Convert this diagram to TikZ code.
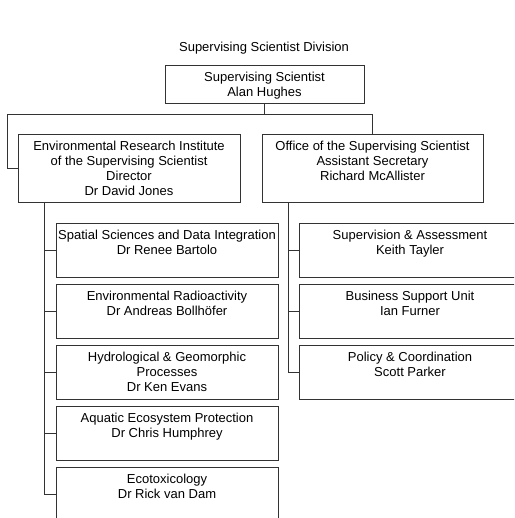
\documentclass[tikz,border=0pt]{standalone}
\usepackage{fontspec}
\setmainfont{Liberation Sans}
\usetikzlibrary{calc}
\begin{document}
\begin{tikzpicture}[x=1pt,y=-1pt,
  box/.style={draw=black!80, line width=0.8pt, rectangle, inner sep=0},
  txt/.style={anchor=north, align=center, inner sep=0, font=\fontsize{13}{15}\selectfont},
  conn/.style={draw=black!80, line width=0.8pt}]
\useasboundingbox (0,0) rectangle (514,518);
\clip (0,0) rectangle (514,518);
% title
\node[txt, anchor=base] (title) at (264,52) {Supervising Scientist Division};
% top
\node[box, minimum width=199pt, minimum height=38pt] (top) at (264.5,84) {};
\node[txt] (toptxt) at ($(top.north)+(0,7)$) {Supervising Scientist\\Alan Hughes};
% second level
\node[box, minimum width=222pt, minimum height=68pt] (eri) at (129,168) {};
\node[txt] (eritxt) at ($(eri.north)+(0,7)$) {Environmental Research Institute\\of the Supervising Scientist\\Director\\Dr David Jones};
\node[box, minimum width=221pt, minimum height=68pt] (oss) at (372.5,168) {};
\node[txt] (osstxt) at ($(oss.north)+(0,7)$) {Office of the Supervising Scientist\\Assistant Secretary\\Richard McAllister};
% left units
\tikzset{unit/.style={box, minimum width=222pt, minimum height=54pt}}
\node[unit] (l1) at (167,250) {};
\node[txt] at ($(l1.north)+(0,7)$) {Spatial Sciences and Data Integration\\Dr Renee Bartolo};
\node[unit] (l2) at (167,311) {};
\node[txt] at ($(l2.north)+(0,7)$) {Environmental Radioactivity\\Dr Andreas Bollhöfer};
\node[unit] (l3) at (167,372) {};
\node[txt] at ($(l3.north)+(0,7)$) {Hydrological \& Geomorphic\\Processes\\Dr Ken Evans};
\node[unit] (l4) at (167,433) {};
\node[txt] at ($(l4.north)+(0,7)$) {Aquatic Ecosystem Protection\\Dr Chris Humphrey};
\node[unit] (l5) at (167,494) {};
\node[txt] at ($(l5.north)+(0,7)$) {Ecotoxicology\\Dr Rick van Dam};
% right units
\node[unit] (r1) at (410,250) {};
\node[txt] at ($(r1.north)+(0,7)$) {Supervision \& Assessment\\Keith Tayler};
\node[unit] (r2) at (410,311) {};
\node[txt] at ($(r2.north)+(0,7)$) {Business Support Unit\\Ian Furner};
\node[unit] (r3) at (410,372) {};
\node[txt] at ($(r3.north)+(0,7)$) {Policy \& Coordination\\Scott Parker};
% connectors
\coordinate (bus) at (264.5,114);
\draw[conn] (top.south) -- (bus);
\draw[conn] (bus) -| ($(eri.west)+(-10,0)$) -- (eri.west);
\draw[conn] (bus) -| (oss.north);
\coordinate (eriL) at ($(eri.south west)+(27,0)$);
\foreach \n in {l1,l2,l3,l4,l5} \draw[conn] (eriL) |- (\n.west);
\coordinate (ossL) at ($(oss.south west)+(27,0)$);
\foreach \n in {r1,r2,r3} \draw[conn] (ossL) |- (\n.west);
\end{tikzpicture}
\end{document}
